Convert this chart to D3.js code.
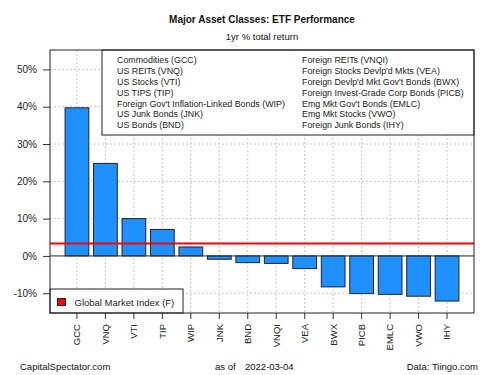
<!DOCTYPE html>
<html>
<head>
<meta charset="utf-8">
<script src="https://cdn.jsdelivr.net/npm/d3@7"></script>
<style>
body { margin: 0; background: #fff; }
svg { font-family: "Liberation Sans", Arial, sans-serif; }
</style>
</head>
<body>
<script>
var tickers = ["GCC", "VNQ", "VTI", "TIP", "WIP", "JNK", "BND", "VNQI", "VEA", "BWX", "PICB", "EMLC", "VWO", "IHY"];
var returns = [39.7, 24.8, 10.0, 7.1, 2.4, -0.9, -1.8, -2.0, -3.4, -8.3, -10.1, -10.3, -10.8, -12.1];
var gmi = 3.3;

var legendLeft = ["Commodities (GCC)", "US REITs (VNQ)", "US Stocks (VTI)", "US TIPS (TIP)",
    "Foreign Gov't Inflation-Linked Bonds (WIP)", "US Junk Bonds (JNK)", "US Bonds (BND)"];
var legendRight = ["Foreign REITs (VNQI)", "Foreign Stocks Devlp'd Mkts (VEA)", "Foreign Devlp'd Mkt Gov't Bonds (BWX)",
    "Foreign Invest-Grade Corp Bonds (PICB)", "Emg Mkt Gov't Bonds (EMLC)", "Emg Mkt Stocks (VWO)", "Foreign Junk Bonds (IHY)"];
var yTicks = [-10, 0, 10, 20, 30, 40, 50];

var pLeft = 50, pRight = 474, pTop = 50, pBottom = 313;

var x = d3.scaleBand()
    .domain(tickers)
    .range([pLeft, pRight])
    .paddingInner(1 / 6)
    .paddingOuter(0.53);

var y = d3.scaleLinear()
    .domain([-15.3, 55.2])
    .range([pBottom, pTop]);

var svg = d3.select("body").append("svg")
    .attr("width", 500)
    .attr("height", 375);

// grid
svg.selectAll("line.vgrid")
    .data(tickers)
    .enter().append("line")
    .attr("class", "vgrid")
    .attr("x1", function(d){return x(d) + x.bandwidth() / 2;})
    .attr("x2", function(d){return x(d) + x.bandwidth() / 2;})
    .attr("y1", pTop)
    .attr("y2", pBottom)
    .attr("stroke", "#c8c8c8")
    .attr("stroke-dasharray", "2,2");

svg.selectAll("line.hgrid")
    .data(yTicks)
    .enter().append("line")
    .attr("class", "hgrid")
    .attr("x1", pLeft)
    .attr("x2", pRight)
    .attr("y1", function(d){return y(d);})
    .attr("y2", function(d){return y(d);})
    .attr("stroke", "#c8c8c8")
    .attr("stroke-dasharray", "2,2");

// bars
svg.selectAll("rect.bar")
    .data(returns)
    .enter().append("rect")
    .attr("class", "bar")
    .attr("x", function(d, i){return x(tickers[i]);})
    .attr("width", x.bandwidth())
    .attr("y", function(d){return y(Math.max(0, d));})
    .attr("height", function(d){return Math.abs(y(d) - y(0));})
    .attr("fill", "#1e90ff")
    .attr("stroke", "#222")
    .attr("stroke-width", 1);

// zero line
svg.append("line")
    .attr("x1", pLeft).attr("x2", pRight)
    .attr("y1", y(0)).attr("y2", y(0))
    .attr("stroke", "#333")
    .attr("stroke-width", 1);

// global market index line
svg.append("line")
    .attr("x1", pLeft).attr("x2", pRight)
    .attr("y1", y(gmi)).attr("y2", y(gmi))
    .attr("stroke", "#ff0000")
    .attr("stroke-width", 2);

// axes
var yAxis = d3.axisLeft(y)
    .tickValues(yTicks)
    .tickSize(7)
    .tickPadding(6)
    .tickFormat(function(d){return d + "%";});

svg.append("g")
    .attr("transform", "translate(" + pLeft + ",0)")
    .call(yAxis)
    .call(function(g){
        g.select(".domain").remove();
        g.selectAll("text").attr("font-size", 10).attr("fill", "#222").attr("font-family", "Liberation Sans, Arial, sans-serif");
        g.selectAll("line").attr("stroke", "#333");
    });

var xAxis = d3.axisBottom(x).tickSize(6).tickPadding(5);

svg.append("g")
    .attr("transform", "translate(0," + pBottom + ")")
    .call(xAxis)
    .call(function(g){
        g.select(".domain").remove();
        g.selectAll("line").attr("stroke", "#333");
        g.selectAll("text")
            .attr("font-size", 9.5)
            .attr("fill", "#222")
            .attr("font-family", "Liberation Sans, Arial, sans-serif")
            .attr("transform", "rotate(-90)")
            .attr("text-anchor", "end")
            .attr("dy", "0.35em")
            .attr("x", -11)
            .attr("y", 0);
    });

// top legend
svg.append("rect")
    .attr("x", 102).attr("y", pTop)
    .attr("width", pRight - 102).attr("height", 85)
    .attr("fill", "#fff")
    .attr("stroke", "#222");

svg.selectAll("text.legL")
    .data(legendLeft)
    .enter().append("text")
    .attr("class", "legL")
    .attr("x", 117)
    .attr("y", function(d, i){return 61 + i * 10.8;})
    .attr("dominant-baseline", "middle")
    .attr("font-size", 8.85)
    .attr("fill", "#222")
    .text(function(d){return d;});

svg.selectAll("text.legR")
    .data(legendRight)
    .enter().append("text")
    .attr("class", "legR")
    .attr("x", 302)
    .attr("y", function(d, i){return 61 + i * 10.8;})
    .attr("dominant-baseline", "middle")
    .attr("font-size", 8.85)
    .attr("fill", "#222")
    .text(function(d){return d;});

// bottom legend
svg.append("rect")
    .attr("x", pLeft).attr("y", 289)
    .attr("width", 133).attr("height", pBottom - 289)
    .attr("fill", "#fff")
    .attr("stroke", "#222");

svg.append("rect")
    .attr("x", 57.5).attr("y", 298.5)
    .attr("width", 8).attr("height", 7)
    .attr("fill", "#ff0000")
    .attr("stroke", "#222");

svg.append("text")
    .attr("x", 74.5).attr("y", 303)
    .attr("dominant-baseline", "middle")
    .attr("font-size", 9.5)
    .attr("fill", "#222")
    .text("Global Market Index (F)");

// plot border
svg.append("rect")
    .attr("x", pLeft).attr("y", pTop)
    .attr("width", pRight - pLeft).attr("height", pBottom - pTop)
    .attr("fill", "none")
    .attr("stroke", "#222");

// titles
svg.append("text")
    .attr("x", 262).attr("y", 20)
    .attr("text-anchor", "middle")
    .attr("dominant-baseline", "middle")
    .attr("font-size", 10)
    .attr("font-weight", "bold")
    .attr("fill", "#111")
    .text("Major Asset Classes: ETF Performance");

svg.append("text")
    .attr("x", 262).attr("y", 37)
    .attr("text-anchor", "middle")
    .attr("dominant-baseline", "middle")
    .attr("font-size", 9.5)
    .attr("fill", "#111")
    .text("1yr % total return");

// footer
svg.append("text")
    .attr("x", 20).attr("y", 367)
    .attr("dominant-baseline", "middle")
    .attr("font-size", 9.5)
    .attr("fill", "#111")
    .text("CapitalSpectator.com");

svg.append("text")
    .attr("x", 215).attr("y", 367)
    .attr("dominant-baseline", "middle")
    .attr("font-size", 9.5)
    .attr("fill", "#111")
    .text("as of");

svg.append("text")
    .attr("x", 245).attr("y", 367)
    .attr("dominant-baseline", "middle")
    .attr("font-size", 9.5)
    .attr("fill", "#111")
    .text("2022-03-04");

svg.append("text")
    .attr("x", 478).attr("y", 367)
    .attr("text-anchor", "end")
    .attr("dominant-baseline", "middle")
    .attr("font-size", 9.5)
    .attr("fill", "#111")
    .text("Data: Tiingo.com");
</script>
</body>
</html>
